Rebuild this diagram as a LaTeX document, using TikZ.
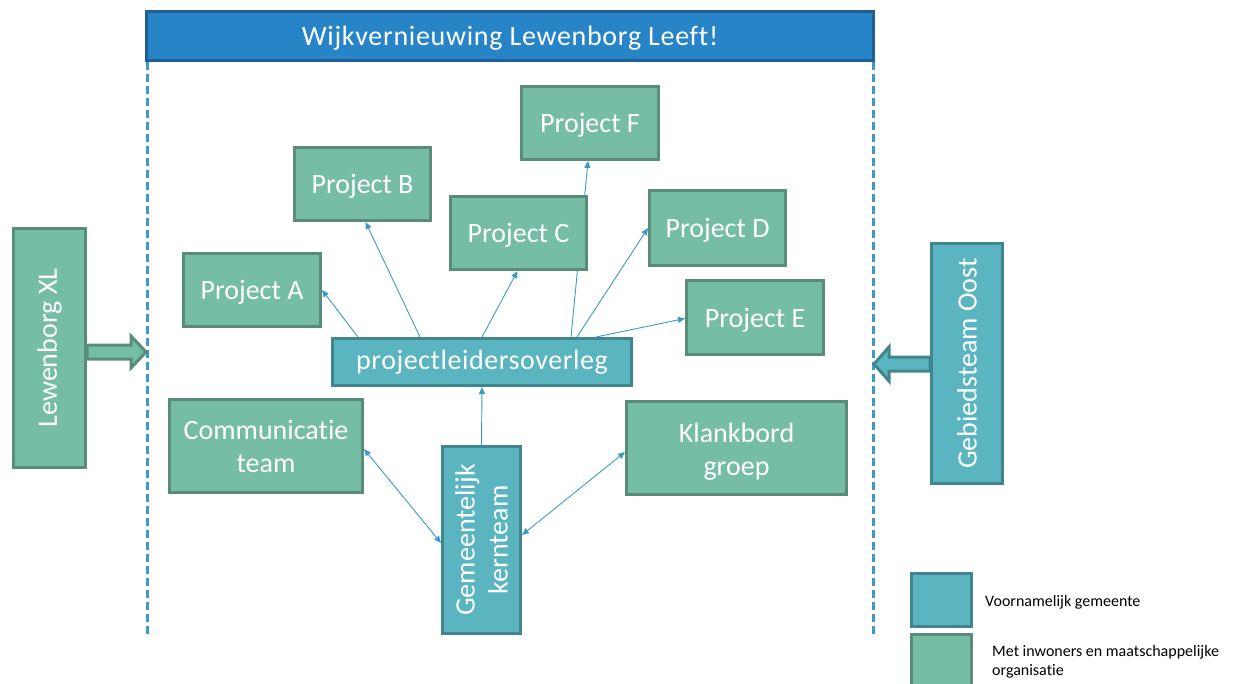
\documentclass[tikz,border=0pt]{standalone}
\usepackage{fontspec}
\setmainfont{Carlito}[Ligatures=NoCommon]
\usetikzlibrary{arrows.meta,calc}
\definecolor{gfill}{HTML}{76BDA6}
\definecolor{gline}{HTML}{5A8C7C}
\definecolor{tfill}{HTML}{5AB5C0}
\definecolor{tline}{HTML}{41868E}
\definecolor{bfill}{HTML}{2784C7}
\definecolor{bline}{HTML}{1E5F96}
\definecolor{conn}{HTML}{3C9AC6}
\definecolor{dashc}{HTML}{3A9AC9}
\pgfdeclarelayer{bg}
\pgfsetlayers{bg,main}
\newcommand{\bigtxt}{\fontsize{28}{33}\selectfont}
\begin{document}
\begin{tikzpicture}[x=1pt,y=-1pt,
  gbox/.style={draw=gline,fill=gfill,line width=3pt,text=white,font=\bigtxt,inner sep=0pt,align=center},
  tbox/.style={draw=tline,fill=tfill,line width=3pt,text=white,font=\bigtxt,inner sep=0pt,align=center},
  rtext/.style={text=white,font=\bigtxt,rotate=90,align=center,inner sep=0pt},
  link/.style={draw=conn,line width=0.9pt,-{Triangle[length=7pt,width=6pt]}},
  blink/.style={draw=conn,line width=0.9pt,{Triangle[length=7pt,width=6pt]}-{Triangle[length=7pt,width=6pt]}},
  border/.style={draw=dashc,line width=3pt,dash pattern=on 8pt off 4pt},
  legtext/.style={font=\fontsize{16}{19.5}\selectfont,text=black,anchor=west,align=left,inner sep=0pt}
]
\useasboundingbox (0,0) rectangle (1236,684);
% frame lines
\coordinate (L1) at (147,62);
\coordinate (L2) at (147,635);
\coordinate (R1) at (873,62);
\coordinate (R2) at (873,635);
\draw[border] (L1) -- (L2);
\draw[border] (R1) -- (R2);
% title
\node[draw=bline,fill=bfill,line width=3pt,minimum width=727pt,minimum height=49pt,inner sep=0pt,text=white,font={\bigtxt\addfontfeatures{LetterSpace=2.5}},text depth=0pt] (title) at (510,36) {Wijkvernieuwing Lewenborg Leeft!};
% projects
\node[gbox,minimum width=137pt,minimum height=73pt,text depth=0pt] (F) at (590,123) {Project F};
\node[gbox,minimum width=136pt,minimum height=73pt,text depth=0pt] (B) at (362.5,184) {Project B};
\node[gbox,minimum width=136pt,minimum height=73pt,text depth=0pt] (C) at (518.5,233) {Project C};
\node[gbox,minimum width=136pt,minimum height=75pt,text depth=0pt] (D) at (717.5,228) {Project D};
\node[gbox,minimum width=137pt,minimum height=73pt,text depth=0pt] (A) at (252,290) {Project A};
\node[gbox,minimum width=137pt,minimum height=74pt,text depth=0pt] (E) at (755,317.5) {Project E};
\node[tbox,minimum width=299pt,minimum height=47pt] (plo) at (482,362) {\addfontfeatures{LetterSpace=2}projectleidersoverleg};
\node[gbox,minimum width=193pt,minimum height=93pt] (comm) at (266,446) {Communicatie\\team};
\node[gbox,minimum width=220pt,minimum height=93pt] (klank) at (736.5,448) {};
\node[text=white,font=\bigtxt,align=center,inner sep=0pt] (klankt) at ([yshift=-4pt]klank.center) {Klankbord\\groep};
\node[tbox,minimum width=78pt,minimum height=187pt] (kern) at (481.5,540) {};
\node[rtext] (kernt) at (kern.center) {Gemeentelijk\\kernteam};
\node[gbox,minimum width=72pt,minimum height=239pt] (lxl) at (49.5,348) {};
\node[rtext] (lxlt) at (lxl.center) {Lewenborg XL};
\node[tbox,minimum width=71pt,minimum height=240pt] (go) at (967,363.5) {};
\node[rtext] (got) at (go.center) {Gebiedsteam Oost};
% connectors
\begin{pgfonlayer}{bg}
\draw[link] ([xshift=27pt]plo.north west) -- (A.east);
\draw[link] ([xshift=89pt]plo.north west) -- ([xshift=3pt]B.south);
\draw[link] (plo.north) -- ([xshift=-1pt]C.south);
\draw[link] ([xshift=89pt]plo.north) -- ([xshift=-2pt]F.south);
\draw[link] ([xshift=95pt]plo.north) -- (D.west);
\draw[link] ([xshift=114pt]plo.north) -- ([yshift=-1pt]E.west);
\draw[link] (kern.north) -- (plo.south);
\draw[blink] ([yshift=-3pt]comm.east) -- ([yshift=-3pt]kern.west);
\draw[blink] ([yshift=-4pt]klank.west) -- ([yshift=5pt]kern.east);
\end{pgfonlayer}
% block arrows
\draw[draw=gline,fill=gfill,line width=3pt,line join=miter]
  ([yshift=7pt]lxl.east |- 0,352) -- (131,345) -- (131,336) -- (146,352) -- (131,368) -- (131,359) -- ([yshift=-7pt]lxl.east |- 0,352) -- cycle;
\draw[draw=tline,fill=tfill,line width=3pt,line join=miter]
  ([yshift=7pt]go.west |- 0,364) -- (889,357) -- (889,347) -- (874,364) -- (889,381) -- (889,371) -- ([yshift=-7pt]go.west |- 0,364) -- cycle;
% legend
\node[fill=tfill,draw=tline,line width=3pt,minimum width=60pt,minimum height=53pt,inner sep=0pt] (leg1) at (941.5,600) {};
\node[fill=gfill,draw=gline,line width=3pt,minimum width=60pt,minimum height=56pt,inner sep=0pt] (leg2) at (941.5,662) {};
\node[legtext] (leg1t) at (985,602) {Voornamelijk gemeente};
\node[legtext] (leg2t) at (992,662) {Met inwoners en maatschappelijke\\organisatie};
\end{tikzpicture}
\end{document}
